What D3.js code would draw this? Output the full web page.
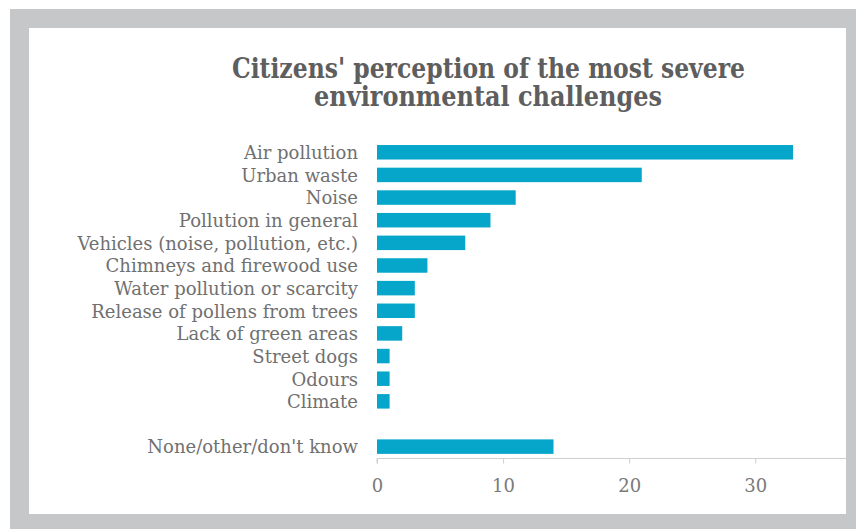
<!DOCTYPE html>
<html>
<head>
<meta charset="utf-8">
<script src="https://cdn.jsdelivr.net/npm/d3@7"></script>
<style>
  html, body { margin: 0; padding: 0; background: #ffffff; }
  svg { display: block; }
</style>
</head>
<body>
<svg id="chart" width="856" height="529"></svg>
<script>
const titleLines = ["Citizens' perception of the most severe", "environmental challenges"];
const categories = [
  "Air pollution",
  "Urban waste",
  "Noise",
  "Pollution in general",
  "Vehicles (noise, pollution, etc.)",
  "Chimneys and firewood use",
  "Water pollution or scarcity",
  "Release of pollens from trees",
  "Lack of green areas",
  "Street dogs",
  "Odours",
  "Climate",
  "",
  "None/other/don't know"
];
const values = [33, 21, 11, 9, 7, 4, 3, 3, 2, 1, 1, 1, null, 14];
const tickValues = [0, 10, 20, 30];
const xMax = 37.2;

const W = 856, H = 529;
const svg = d3.select("#chart");

// background frame
svg.append("rect").attr("x", 10).attr("y", 9).attr("width", W - 10).attr("height", H - 9).attr("fill", "#c6c7c9");
svg.append("rect").attr("x", 29).attr("y", 28).attr("width", 817).attr("height", 486).attr("fill", "#ffffff");

const serif = "'DejaVu Serif', 'Liberation Serif', Georgia, serif";

// title
const titleG = svg.append("g").attr("fill", "#5e5e5e").attr("font-family", serif).attr("font-weight", "bold").attr("font-size", 27);
const titleSpecs = [{x0: 232, x1: 745, y: 78}, {x0: 314, x1: 662, y: 106}];
titleLines.forEach((t, i) => {
  const s = titleSpecs[i];
  titleG.append("text")
    .attr("x", (s.x0 + s.x1) / 2)
    .attr("y", s.y)
    .attr("text-anchor", "middle")
    .attr("textLength", s.x1 - s.x0)
    .attr("lengthAdjust", "spacingAndGlyphs")
    .text(t);
});

const slots = categories.map((c, i) => "slot" + i);
const x = d3.scaleLinear().domain([0, xMax]).range([377, 846]);
const y = d3.scaleBand().domain(slots).range([140.5, 458.4]).paddingInner(0.36).paddingOuter(0.2);

// bars
svg.append("g").selectAll("rect")
  .data(values.map((v, i) => ({v, s: slots[i]})).filter(d => d.v != null))
  .join("rect")
  .attr("x", x(0))
  .attr("y", d => y(d.s))
  .attr("width", d => x(d.v) - x(0))
  .attr("height", y.bandwidth())
  .attr("fill", "#05a6c9");

// category labels
const labelG = svg.append("g").attr("fill", "#707070").attr("font-family", serif).attr("font-size", 16);
const labels = labelG.selectAll("text")
  .data(categories.map((c, i) => ({c, s: slots[i]})).filter(d => d.c))
  .join("text")
  .attr("x", 358)
  .attr("y", d => y(d.s) + y.bandwidth() / 2)
  .attr("dy", "0.38em")
  .attr("text-anchor", "end")
  .text(d => d.c);
// fit font size so the widest label spans the reference width
let maxW = 0;
labels.each(function() { maxW = Math.max(maxW, this.getComputedTextLength()); });
const fs = 16 * 281 / maxW;
labelG.attr("font-size", fs);

// x axis
const axisG = svg.append("g").attr("transform", "translate(0,458.5)")
  .call(d3.axisBottom(x).tickValues(tickValues).tickSize(5).tickPadding(16).tickFormat(d3.format("d")));
axisG.select(".domain").attr("stroke", "#cfcfcf").attr("d", `M${x(0)},5V0H846`);
axisG.selectAll(".tick line").attr("stroke", "#cfcfcf");
axisG.selectAll(".tick text").attr("fill", "#7a7a7a").attr("font-family", serif).attr("font-size", 18);
</script>
</body>
</html>
